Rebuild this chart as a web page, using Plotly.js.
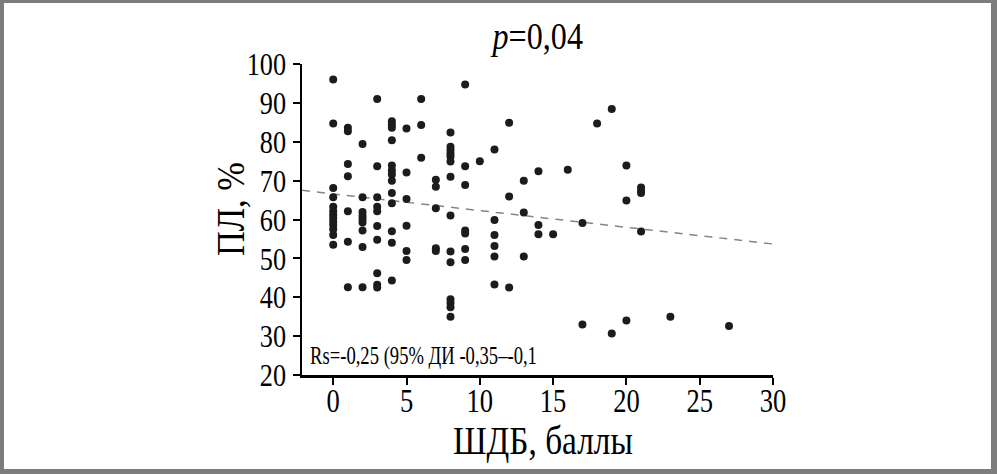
<!DOCTYPE html>
<html><head><meta charset="utf-8">
<script src="https://cdn.plot.ly/plotly-3.0.1.min.js"></script>
<style>
html,body{margin:0;padding:0;background:#fff;}
#wrap{position:relative;width:997px;height:474px;overflow:hidden;}
#chart{width:997px;height:474px;}
#frame{position:absolute;left:0;top:0;width:997px;height:474px;box-sizing:border-box;border-style:solid;border-color:#7c7c7c;border-width:3px 6px 5px 4px;pointer-events:none;}
</style></head><body>
<div id="wrap"><div id="chart"></div><div id="frame"></div></div>
<script>
// ШДБ score levels and ПЛ (%) values observed at each level
const scoreLevels = [0, 1, 2, 3, 4, 5, 6, 7, 8, 9, 10, 11, 12, 13, 14, 15, 16, 17, 18, 19, 20, 21, 23, 27];
const plByScore = [
  [96.0, 84.7, 68.1, 65.7, 63.3, 62.1, 61.2, 60.4, 59.5, 58.6, 57.5, 56.0, 53.5],
  [83.6, 82.7, 74.3, 71.1, 62.1, 54.3, 42.6],
  [79.4, 65.7, 61.9, 60.9, 60.1, 59.2, 57.2, 52.9, 42.6],
  [91.0, 73.7, 65.7, 63.3, 62.1, 58.3, 54.8, 46.2, 43.2, 42.5],
  [85.3, 84.4, 83.6, 80.4, 73.9, 72.6, 71.6, 70.0, 66.8, 64.2, 57.0, 54.0, 44.3],
  [83.4, 72.1, 65.3, 58.4, 51.9, 49.6],
  [91.0, 84.3, 75.9],
  [70.2, 68.4, 62.9, 52.6, 51.9],
  [82.4, 78.7, 77.9, 77.0, 76.2, 74.9, 71.0, 61.0, 51.8, 49.0, 39.5, 38.5, 37.4, 35.0],
  [94.7, 73.7, 68.9, 57.2, 56.4, 52.4, 49.6],
  [75.0],
  [78.0, 59.9, 56.0, 53.2, 50.5, 43.3],
  [84.9, 65.9, 42.5],
  [70.0, 61.8, 50.5],
  [72.4, 58.6, 56.2],
  [56.2],
  [72.8],
  [59.1, 33.0],
  [84.7],
  [88.4, 30.7],
  [73.9, 64.9, 34.0],
  [68.2, 67.4, 66.8, 56.9],
  [35.0],
  [32.6]
];
// regression line end points
const trendX = [-2.13, 30];
const trendY = [67.5, 53.7];

const xTickVals = [0, 5, 10, 15, 20, 25, 30];
const yTickVals = [20, 30, 40, 50, 60, 70, 80, 90, 100];

const titleText = '<i>p</i>=0,04';
const xTitle = 'ШДБ, баллы';
const yTitle = 'ПЛ, %';
const statText = 'Rs=-0,25 (95% ДИ -0,35–-0,1';

const xs = [], ys = [];
scoreLevels.forEach((s, i) => plByScore[i].forEach(v => { xs.push(s); ys.push(v); }));

const FONT = 'Liberation Serif, Times New Roman, serif';

const traces = [
  {x: trendX, y: trendY, type: 'scatter', mode: 'lines',
   line: {color: '#858585', width: 1.5, dash: '8px,7px'}, hoverinfo: 'skip', showlegend: false},
  {x: xs, y: ys, type: 'scatter', mode: 'markers',
   marker: {color: '#1c1c1c', size: 8, line: {width: 0}}, showlegend: false}
];

const layout = {
  width: 997, height: 474,
  margin: {l: 302, r: 224, t: 64, b: 99, pad: 0},
  paper_bgcolor: '#ffffff', plot_bgcolor: '#ffffff',
  font: {family: FONT, color: '#000'},
  showlegend: false,
  title: {text: titleText, font: {family: FONT, size: 38, color: '#000'},
          xref: 'container', yref: 'container', x: 538 / 997, xanchor: 'center',
          y: 1 - 36 / 474, yanchor: 'middle'},
  xaxis: {range: [-2.13, 30], tickvals: xTickVals, ticktext: xTickVals.map(String),
          showgrid: false, zeroline: false, showline: true, linecolor: '#000', linewidth: 2.5,
          ticks: 'outside', ticklen: 7, tickwidth: 2, tickcolor: '#000',
          tickfont: {family: FONT, size: 34, color: '#000'}},
  yaxis: {range: [20, 100], tickvals: yTickVals, ticktext: yTickVals.map(String),
          showgrid: false, zeroline: false, showline: true, linecolor: '#000', linewidth: 2.5,
          ticks: 'outside', ticklen: 7, tickwidth: 2, tickcolor: '#000',
          tickfont: {family: FONT, size: 32, color: '#000'}},
  annotations: [
    {text: statText, xref: 'paper', yref: 'paper', x: 0.012, y: 0.062,
     xanchor: 'left', yanchor: 'middle', showarrow: false,
     font: {family: FONT, size: 25, color: '#000'}},
    {text: yTitle, xref: 'paper', yref: 'paper', x: (231 - 302) / 471, y: (375 - 210) / 310.5,
     xanchor: 'center', yanchor: 'middle', textangle: -90, showarrow: false,
     font: {family: FONT, size: 40, color: '#000'}},
    {text: xTitle, xref: 'paper', yref: 'paper', x: (543 - 302) / 471, y: (375 - 440) / 310.5,
     xanchor: 'center', yanchor: 'middle', showarrow: false,
     font: {family: FONT, size: 40, color: '#000'}}
  ]
};

// narrow the serif glyphs to match the condensed typeface of the original
function squeeze(el, s, mode, dy) {
  const b = el.getBBox();
  let ax;
  if (mode === 'left') ax = b.x;
  else if (mode === 'center') ax = b.x + b.width / 2;
  else ax = parseFloat(el.getAttribute('x')) || 0;
  const t = el.getAttribute('transform') || '';
  const pre = dy ? 'translate(0,' + dy + ') ' : '';
  el.setAttribute('transform', (pre + t + ' translate(' + ax + ',0) scale(' + s + ',1) translate(' + (-ax) + ',0)').trim());
}
function squeezeBy(sel, s, mode, dy) {
  document.querySelectorAll(sel).forEach(el => squeeze(el, s, mode, dy));
}
function squeezeTo(sel, target, mode) {
  document.querySelectorAll(sel).forEach(el => {
    const w = el.getBBox().width;
    if (w > 0) squeeze(el, target / w, mode);
  });
}

Plotly.newPlot('chart', traces, layout, {displayModeBar: false, responsive: false, staticPlot: true}).then(() => {
  squeezeBy('#chart .xtick text', 0.78, null, -13);
  squeezeBy('#chart .ytick text', 0.82);
  squeezeTo('#chart .g-gtitle text', 93, 'center');
  squeezeTo('#chart .annotation[data-index="0"] text', 227, 'left');
  squeezeTo('#chart .annotation[data-index="1"] text', 94, 'center');
  squeezeTo('#chart .annotation[data-index="2"] text', 180, 'center');
});
</script>
</body></html>
